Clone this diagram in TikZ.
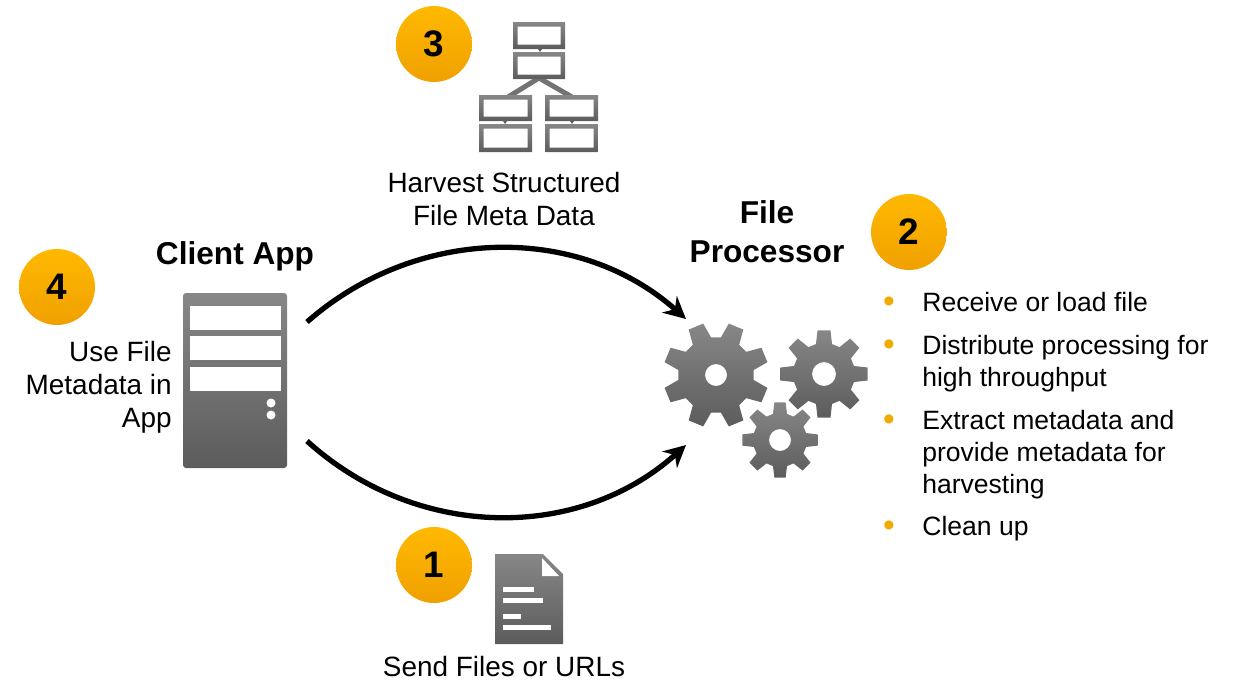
\documentclass[tikz,border=0pt]{standalone}
\usepackage{fontspec}
\setmainfont{Liberation Sans}
\usetikzlibrary{arrows.meta}

\definecolor{badgetop}{HTML}{FFB900}
\definecolor{badgebottom}{HTML}{F0A000}
\definecolor{icontop}{HTML}{878787}
\definecolor{iconbottom}{HTML}{5C5C5C}
\definecolor{dotgold}{HTML}{F0AB00}

\tikzset{
    badge/.style={circle,minimum size=1.52cm,inner sep=0pt,top color=badgetop,bottom color=badgebottom,font=\bfseries\fontsize{21}{25}\selectfont},
    iconshade/.style={top color=icontop,bottom color=iconbottom,draw=none},
    bodytext/.style={inner sep=0pt,font=\fontsize{15.9}{18.9}\selectfont},
    titletext/.style={inner sep=0pt,align=center,font=\bfseries\fontsize{18}{22.2}\selectfont},
    listtext/.style={bodytext,anchor=north west,align=left,font=\fontsize{15.1}{18.3}\selectfont},
    listdot/.style={inner sep=0pt,text=dotgold,font=\fontsize{19}{22}\selectfont},
    slot/.style={fill=white,draw=none},
    flowarc/.style={line width=.106cm,-{Stealth[length=.44cm,width=.44cm]}}
}

\newcommand\drawgear[6]{
    \begin{scope}[shift={(#1,#2)}]
        \shade[iconshade,even odd rule] ({#6-15}:#4)
            \foreach \k in {0,...,7}{
                -- ({#6+45*\k-15}:#4) -- ({#6+45*\k-8.5}:#3) -- ({#6+45*\k+8.5}:#3) -- ({#6+45*\k+15}:#4)
            } -- cycle (0,0) circle (#5);
    \end{scope}
}
\newcommand\orgbox[4]{
    \shade[iconshade,even odd rule] (#1,#2) rectangle (#3,#4)
        ({#1+4.5},{#2+4.5}) rectangle ({#3-4.5},{#4-4.5});
}

\begin{document}
\begin{tikzpicture}[x=.02cm,y=-.02cm]
    \useasboundingbox (0,0) rectangle (1235,680);

    % server
    \shade[iconshade,rounded corners=.06cm] (183,293) rectangle (287,468);
    \foreach \y in {306,336,367}{
        \fill[slot] (190,\y) rectangle (281,{\y+24});
    }
    \fill[slot] (271,403) circle (4.5);
    \fill[slot] (271,415) circle (4.5);

    % gears
    \drawgear{716}{375}{53}{38}{11}{22.5}
    \drawgear{824}{374}{44}{31}{12}{0}
    \drawgear{780}{440}{38}{27}{11}{0}

    % org chart
    \draw[line width=.1cm,color=icontop!85!black] (508,97) -- (539,78) -- (572,97);
    \orgbox{513}{22}{565}{49}
    \orgbox{513}{52}{565}{79}
    \orgbox{479}{95}{532}{121}
    \orgbox{479}{124}{532}{152}
    \orgbox{545}{95}{598}{121}
    \orgbox{545}{124}{598}{152}
    \foreach \x/\y in {540/49,505/121,572/121}{
        \fill[iconbottom] ({\x-2},\y) -- ({\x+2},\y) -- (\x,{\y+3}) -- cycle;
    }

    % document
    \shade[iconshade] (495,554) -- (543,554) -- (563,574) -- (563,644) -- (495,644) -- cycle;
    \fill[slot] (542,558) -- (542,576) -- (559,576) -- cycle;
    \fill[slot] (503,587) rectangle (534,592);
    \fill[slot] (503,598) rectangle (543,603);
    \fill[slot] (503,614) rectangle (521,619);
    \fill[slot] (503,625) rectangle (551,630);

    % arcs
    \coordinate (clienttop) at (307,322);
    \coordinate (clientbottom) at (307,441);
    \coordinate (gearstop) at (686,319);
    \coordinate (gearsbottom) at (686,445);
    \draw[flowarc] (clienttop) .. controls (416,226) and (578,223) .. (gearstop);
    \draw[flowarc] (clientbottom) .. controls (416,540) and (578,542) .. (gearsbottom);

    % badges
    \node[badge] (badgeone) at (434,565) {1};
    \node[badge] (badgetwo) at (909,232) {2};
    \node[badge] (badgethree) at (434,44) {3};
    \node[badge] (badgefour) at (57,287) {4};

    % labels
    \node[titletext] (clientapp) at (235,256) {Client App};
    \node[titletext] (fileproc) at (767,232) {File\\Processor};
    \node[bodytext,align=center] (harvest) at (504,199) {Harvest Structured\\File Meta Data};
    \node[bodytext] (sendfiles) at (504,667) {Send Files or URLs};
    \node[bodytext,align=right,anchor=east] (usefile) at (172,387) {Use File\\Metadata in\\App};

    % list
    \foreach \y/\n in {302/a,345/b,420/c,526/d}{
        \node[listdot] (dot\n) at (889,{\y+3}) {\textbullet};
    }
    \node[listtext] (itema) at (922,292) {Receive or load file};
    \node[listtext] (itemb) at (922,335) {Distribute processing for\\high throughput};
    \node[listtext] (itemc) at (922,410) {Extract metadata and\\provide metadata for\\harvesting};
    \node[listtext] (itemd) at (922,516) {Clean up};
\end{tikzpicture}
\end{document}
